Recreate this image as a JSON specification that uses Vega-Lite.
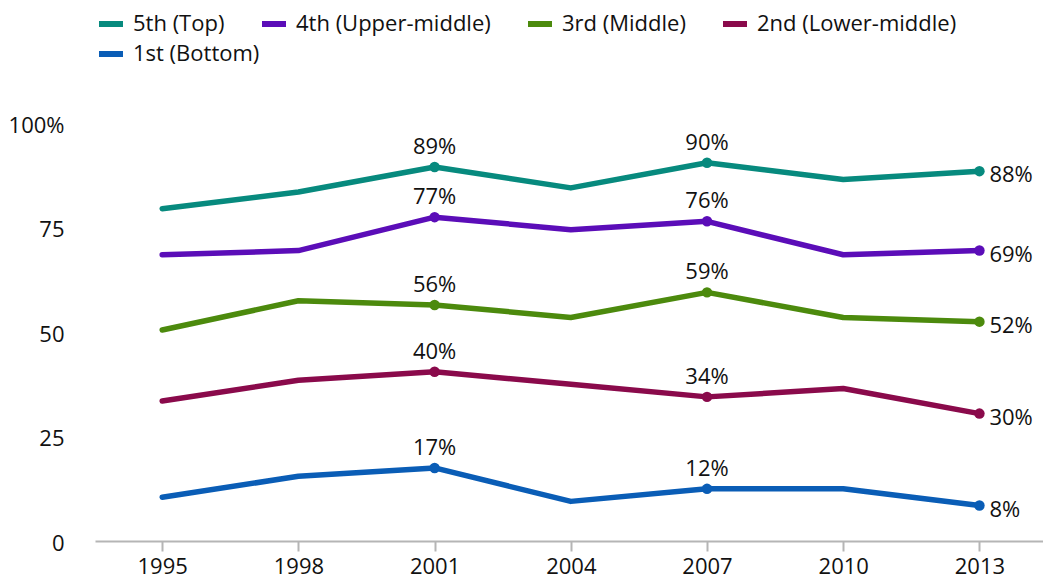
{
  "$schema": "https://vega.github.io/schema/vega-lite/v6.json",
  "width": 948,
  "height": 418,
  "autosize": {"type": "none"},
  "padding": {"left": 95, "top": 121, "right": 0, "bottom": 40},
  "background": "white",
  "config": {
    "view": {"stroke": null},
    "font": "Open Sans",
    "text": {"font": "Open Sans"}
  },
  "data": {
    "values": [
      {"year": 1995, "group": "5th (Top)", "value": 79},
      {"year": 1998, "group": "5th (Top)", "value": 83},
      {"year": 2001, "group": "5th (Top)", "value": 89},
      {"year": 2004, "group": "5th (Top)", "value": 84},
      {"year": 2007, "group": "5th (Top)", "value": 90},
      {"year": 2010, "group": "5th (Top)", "value": 86},
      {"year": 2013, "group": "5th (Top)", "value": 88},
      {"year": 1995, "group": "4th (Upper-middle)", "value": 68},
      {"year": 1998, "group": "4th (Upper-middle)", "value": 69},
      {"year": 2001, "group": "4th (Upper-middle)", "value": 77},
      {"year": 2004, "group": "4th (Upper-middle)", "value": 74},
      {"year": 2007, "group": "4th (Upper-middle)", "value": 76},
      {"year": 2010, "group": "4th (Upper-middle)", "value": 68},
      {"year": 2013, "group": "4th (Upper-middle)", "value": 69},
      {"year": 1995, "group": "3rd (Middle)", "value": 50},
      {"year": 1998, "group": "3rd (Middle)", "value": 57},
      {"year": 2001, "group": "3rd (Middle)", "value": 56},
      {"year": 2004, "group": "3rd (Middle)", "value": 53},
      {"year": 2007, "group": "3rd (Middle)", "value": 59},
      {"year": 2010, "group": "3rd (Middle)", "value": 53},
      {"year": 2013, "group": "3rd (Middle)", "value": 52},
      {"year": 1995, "group": "2nd (Lower-middle)", "value": 33},
      {"year": 1998, "group": "2nd (Lower-middle)", "value": 38},
      {"year": 2001, "group": "2nd (Lower-middle)", "value": 40},
      {"year": 2004, "group": "2nd (Lower-middle)", "value": 37},
      {"year": 2007, "group": "2nd (Lower-middle)", "value": 34},
      {"year": 2010, "group": "2nd (Lower-middle)", "value": 36},
      {"year": 2013, "group": "2nd (Lower-middle)", "value": 30},
      {"year": 1995, "group": "1st (Bottom)", "value": 10},
      {"year": 1998, "group": "1st (Bottom)", "value": 15},
      {"year": 2001, "group": "1st (Bottom)", "value": 17},
      {"year": 2004, "group": "1st (Bottom)", "value": 9},
      {"year": 2007, "group": "1st (Bottom)", "value": 12},
      {"year": 2010, "group": "1st (Bottom)", "value": 12},
      {"year": 2013, "group": "1st (Bottom)", "value": 8}
    ]
  },
  "encoding": {
    "x": {
      "field": "year",
      "type": "quantitative",
      "scale": {"domain": [1993.52, 2014.4], "nice": false, "zero": false},
      "axis": {
        "title": null,
        "values": [1995, 1998, 2001, 2004, 2007, 2010, 2013],
        "format": "d",
        "grid": false,
        "offset": 2,
        "domainColor": "#b5b5b5",
        "domainWidth": 2,
        "tickColor": "#b5b5b5",
        "tickWidth": 2,
        "tickSize": 10,
        "labelFont": "Open Sans",
        "labelFontSize": 22,
        "labelColor": "#111111",
        "labelPadding": 5,
        "labelFlush": false
      }
    },
    "y": {
      "field": "value",
      "type": "quantitative",
      "scale": {"domain": [0, 100], "nice": false},
      "axis": {
        "title": null,
        "values": [0, 25, 50, 75, 100],
        "grid": false,
        "domain": false,
        "ticks": false,
        "labelExpr": "datum.value == 100 ? '100%' : datum.label",
        "labelFont": "Open Sans",
        "labelFontSize": 22,
        "labelColor": "#111111",
        "labelPadding": 31,
        "labelOffset": 4,
        "labelFlush": false
      }
    }
  },
  "layer": [
    {
      "mark": {"type": "line", "strokeWidth": 5.5, "strokeCap": "round", "strokeJoin": "round"},
      "encoding": {
        "stroke": {
          "field": "group",
          "type": "nominal",
          "sort": null,
          "scale": {
            "domain": ["5th (Top)", "4th (Upper-middle)", "3rd (Middle)", "2nd (Lower-middle)", "1st (Bottom)"],
            "range": ["#078a7e", "#5b0db8", "#4c8a0d", "#8a0a4b", "#0a5db6"]
          },
          "legend": {
            "title": null,
            "orient": "none",
            "legendX": 1,
            "legendY": -112,
            "direction": "horizontal",
            "columns": 4,
            "values": ["5th (Top)", "4th (Upper-middle)", "3rd (Middle)", "2nd (Lower-middle)"],
            "columnPadding": 25,
            "padding": 0,
            "symbolType": "stroke",
            "symbolSize": 576,
            "symbolStrokeWidth": 6,
            "labelOffset": 7,
            "labelFont": "Open Sans",
            "labelFontSize": 22,
            "labelColor": "#111111",
            "labelLimit": 400
          }
        }
      }
    },
    {
      "transform": [{"filter": "datum.year == 2001 || datum.year == 2007 || datum.year == 2013"}],
      "mark": {"type": "point", "filled": true, "size": 110, "opacity": 1, "strokeWidth": 0},
      "encoding": {
        "fill": {
          "field": "group",
          "type": "nominal",
          "sort": null,
          "scale": {
            "domain": ["1st (Bottom)", "2nd (Lower-middle)", "3rd (Middle)", "4th (Upper-middle)", "5th (Top)"],
            "range": ["#0a5db6", "#8a0a4b", "#4c8a0d", "#5b0db8", "#078a7e"]
          },
          "legend": {
            "title": null,
            "orient": "none",
            "legendX": 4,
            "legendY": -79,
            "direction": "horizontal",
            "columns": 1,
            "values": ["1st (Bottom)"],
            "padding": 0,
            "symbolType": "M-1,-0.25H1V0.25H-1Z",
            "symbolSize": 576,
            "symbolStrokeWidth": 0,
            "labelOffset": 10,
            "labelFont": "Open Sans",
            "labelFontSize": 22,
            "labelColor": "#111111",
            "labelLimit": 400
          }
        }
      }
    },
    {
      "transform": [
        {"filter": "datum.year == 2001 || datum.year == 2007"},
        {"calculate": "datum.value + '%'", "as": "label"}
      ],
      "mark": {"type": "text", "align": "center", "baseline": "alphabetic", "dy": -13, "fontSize": 22, "font": "Open Sans", "color": "#111111"},
      "encoding": {
        "text": {"field": "label", "type": "nominal"}
      }
    },
    {
      "transform": [
        {"filter": "datum.year == 2013"},
        {"calculate": "datum.value + '%'", "as": "label"}
      ],
      "mark": {"type": "text", "align": "left", "baseline": "alphabetic", "dx": 10, "dy": 11, "fontSize": 22, "font": "Open Sans", "color": "#111111"},
      "encoding": {
        "text": {"field": "label", "type": "nominal"}
      }
    }
  ]
}
